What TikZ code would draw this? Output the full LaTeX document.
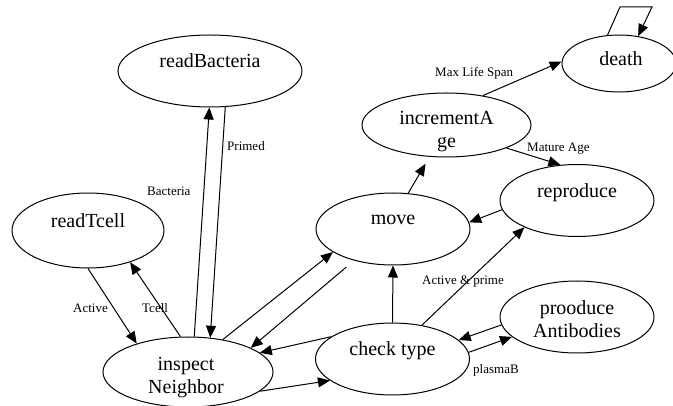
\documentclass[tikz,border=0pt]{standalone}
\usepackage{fontspec}
\setmainfont{Liberation Serif}
\usetikzlibrary{shapes.geometric,arrows.meta}
\begin{document}
\begin{tikzpicture}[x=1pt,y=-1pt,
  state/.style={draw, ellipse, line width=1pt, inner sep=0pt},
  flow/.style={line width=1pt, -{Triangle[length=12pt,width=10pt]}},
  nfont/.style={font=\fontsize{20}{23}\selectfont, align=center, inner sep=0pt},
  efont/.style={font=\fontsize{13}{15}\selectfont, inner sep=0pt}]
\useasboundingbox (0,0) rectangle (673,406);

% states
\node[state, minimum width=184pt, minimum height=72pt,
  label={[nfont,yshift=10pt]center:readBacteria}] (rb) at (210,71) {};
\node[state, minimum width=114pt, minimum height=57pt,
  label={[nfont,yshift=4.5pt,xshift=2pt]center:death}] (death) at (619,63.5) {};
\node[state, minimum width=169pt, minimum height=64pt,
  label={[nfont,yshift=-7pt]center:incrementA\\ge}] (inc) at (446.5,125) {};
\node[state, minimum width=154pt, minimum height=72pt,
  label={[nfont,yshift=7.5pt]center:reproduce}] (rep) at (577,200.5) {};
\node[state, minimum width=154pt, minimum height=72pt,
  label={[nfont,yshift=8.7pt]center:move}] (move) at (393,229) {};
\node[state, minimum width=152pt, minimum height=75pt,
  label={[nfont,yshift=10pt]center:readTcell}] (rt) at (88,230.5) {};
\node[state, minimum width=170pt, minimum height=70pt,
  label={[nfont,yshift=-5.5pt,xshift=-2pt]center:inspect\\Neighbor}] (ins) at (188,372) {};
\node[state, minimum width=154pt, minimum height=72pt,
  label={[nfont,yshift=8.5pt]center:check type}] (ct) at (392.5,359) {};
\node[state, minimum width=154pt, minimum height=72pt,
  label={[nfont,yshift=-2pt]center:prooduce\\Antibodies}] (pa) at (577,317) {};

% transitions
\draw[flow] (ins.80) -- (rb.-91.5);
\draw[flow] (rb.-67.9) -- (ins.57.4);
\draw[flow] (rt.-90) -- (ins.151);
\draw[flow] (ins.102.9) -- (rt.-37.7);
\draw[flow] (ins.43.4) -- (move.-159.3);
\draw[flow, shorten <=10pt] (move.-141.9) -- (ins.21.8);
\draw[flow] (ct.160) -- (ins.15.9);
\draw[flow] (ins.-15.9) -- (ct.-161);
\draw[flow] (ct.90) -- (move.-90);
\draw[flow] (ct.49) -- (rep.-153.4);
\draw[flow] (rep.-173.5) -- (move.5.4);
\draw[flow] (pa.-174) -- (ct.16.5);
\draw[flow] (ct.5.4) -- (pa.-163);
\draw[flow, shorten >=8pt] (move.67.4) -- (inc.-118.8);
\draw[flow] (inc.39.5) -- (death.178);
\draw[flow] (inc.-21.3) -- (rep.115.6);

% self loop on death
\coordinate (lp1) at (620,7);
\coordinate (lp2) at (652,7);
\draw[flow] (death.112.8) -- (lp1) -- (lp2) -- (death.55.4);

% transition labels
\node[efont, anchor=base west] (lprimed) at (227,151) {Primed};
\node[efont, anchor=base west] (lbact) at (147,196) {Bacteria};
\node[efont, anchor=base west] (lactive) at (73,313) {Active};
\node[efont, anchor=base west] (ltcell) at (142,313) {Tcell};
\node[efont, anchor=base west] (lmax) at (435,77) {Max Life Span};
\node[efont, anchor=base west] (lmature) at (527,151.5) {Mature Age};
\node[efont, anchor=base west] (lprime) at (422,284.3) {Active \& prime};
\node[efont, anchor=base west] (lplasma) at (473,373.3) {plasmaB};
\end{tikzpicture}
\end{document}
